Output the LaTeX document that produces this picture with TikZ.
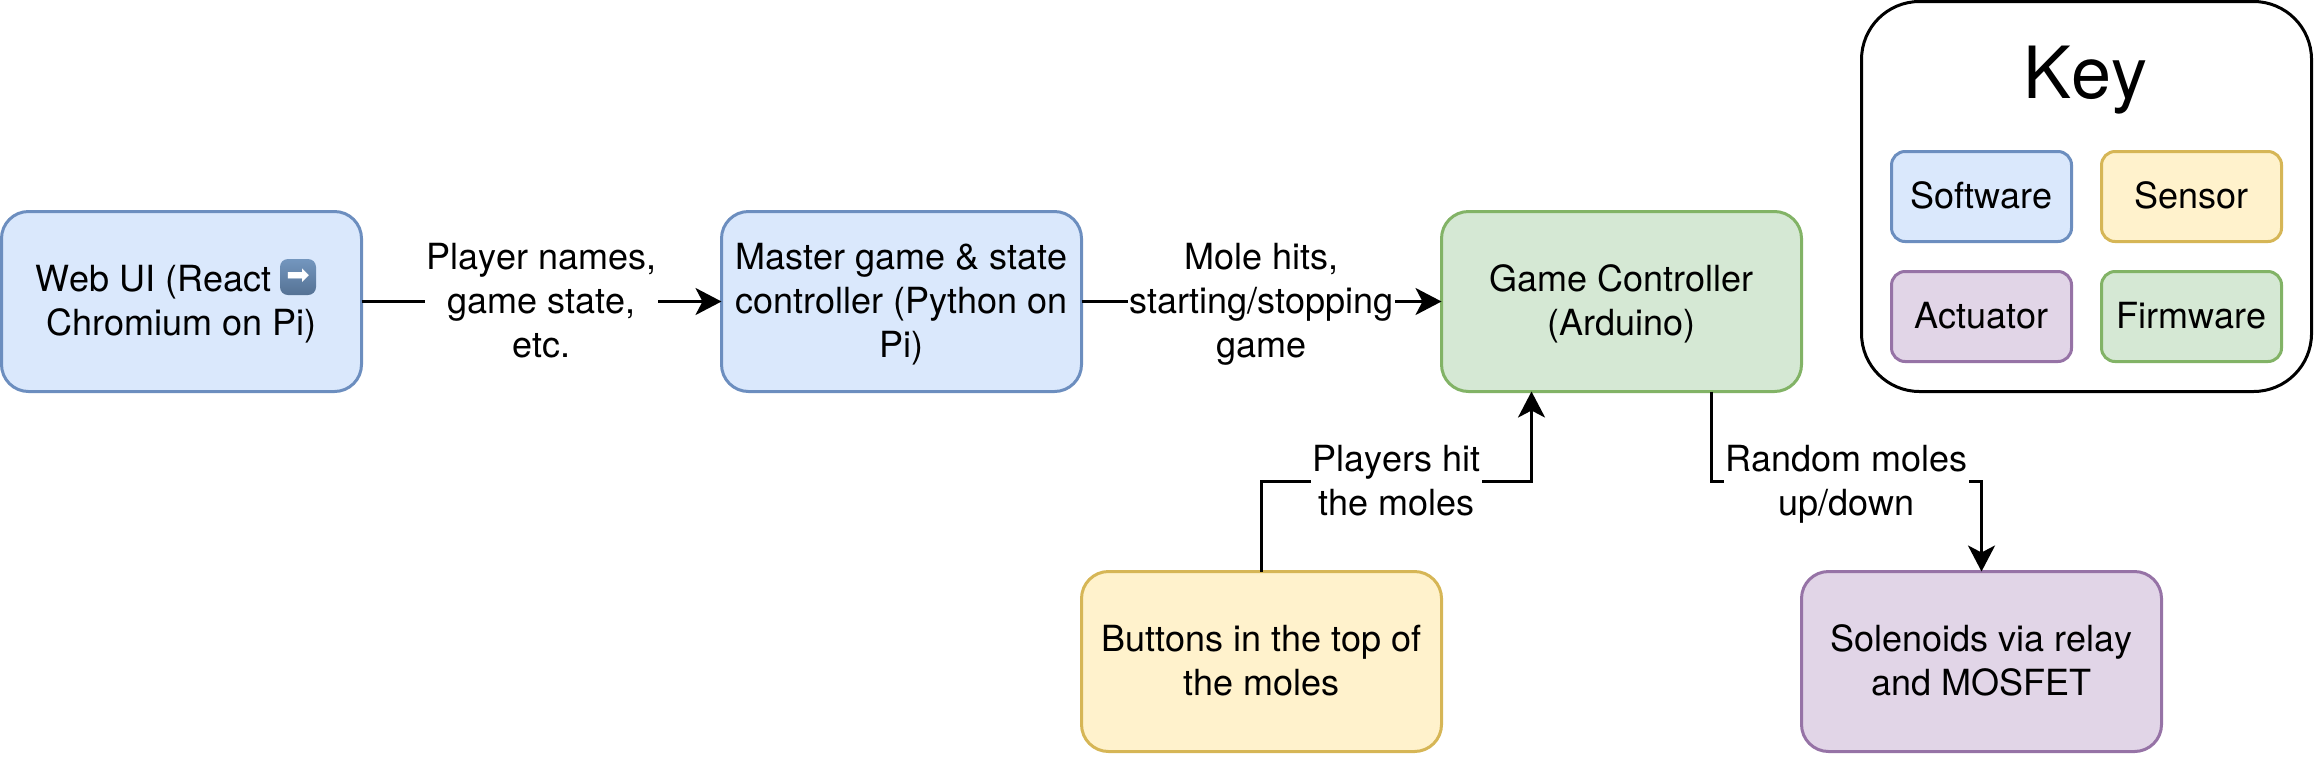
\documentclass[tikz,border=0pt]{standalone}
\usepackage{fontspec}
\setmainfont[Kerning=Off]{TeX Gyre Heros}
\newfontfamily\emojifont{DejaVu Sans}
\usetikzlibrary{arrows.meta,shadings}
\definecolor{swfill}{HTML}{DAE8FC}\definecolor{swline}{HTML}{6C8EBF}
\definecolor{snfill}{HTML}{FFF2CC}\definecolor{snline}{HTML}{D6B656}
\definecolor{fwfill}{HTML}{D5E8D4}\definecolor{fwline}{HTML}{82B366}
\definecolor{acfill}{HTML}{E1D5E7}\definecolor{acline}{HTML}{9673A6}
\definecolor{emojitop}{HTML}{7396BE}\definecolor{emojibot}{HTML}{557294}
\newcommand\ls{\rule[-4.9pt]{0pt}{22pt}}
\tikzset{
  every node/.style={outer sep=0pt,inner sep=0pt,align=center,font=\fontsize{18}{22}\selectfont},
  basebox/.style={draw,line width=1.5pt,minimum width=180pt,minimum height=90pt,rounded corners=13.5pt},
  keybox/.style={draw,line width=1.5pt,minimum width=90pt,minimum height=45pt,rounded corners=6.8pt},
  software/.style={fill=swfill,draw=swline},
  sensor/.style={fill=snfill,draw=snline},
  firmware/.style={fill=fwfill,draw=fwline},
  actuator/.style={fill=acfill,draw=acline},
  edgelabel/.style={fill=white,inner xsep=0.5pt,inner ysep=0pt},
  link/.style={line width=1.5pt,-{Stealth[length=13pt,width=13.5pt,inset=3.5pt]}},
}
\begin{document}
\begin{tikzpicture}[x=0.5pt,y=-0.5pt]
\useasboundingbox (0,0) rectangle (2316,761);
% main boxes
\node[basebox,software] (web) at (181.5,301.5) {\ls Web UI (React \hspace{23pt}\ \\\ls Chromium on Pi)};
\node[basebox,software] (master) at (901.5,301.5) {\ls Master game \& state\\controller (Python on\\\ls Pi)};
\node[basebox,firmware] (game) at (1621.5,301.5) {\ls Game Controller\\\ls (Arduino)};
\node[basebox,sensor] (buttons) at (1261.5,661.5) {\ls Buttons in the top of\\\ls the moles};
\node[basebox,actuator] (solenoids) at (1981.5,661.5) {\ls Solenoids via relay\\\ls and MOSFET};
% emoji
\node[minimum width=18pt,minimum height=18pt,rounded corners=4pt,top color=emojitop,bottom color=emojibot,text=white] (emoji) at (298,277) {\fontsize{14}{14}\selectfont\emojifont ➡};
% connectors
\draw[link] (web.east) -- node[edgelabel] (l1) {\ls Player names,\\game state,\\\ls etc.} (master.west);
\draw[link] (master.east) -- node[edgelabel] (l2) {\ls Mole hits,\\starting/stopping\\\ls game} (game.west);
\coordinate (bendA) at (1261.5,481.5);
\coordinate (bendB) at (1531.5,481.5);
\coordinate (bendC) at (1711.5,481.5);
\coordinate (bendD) at (1981.5,481.5);
\draw[link] (buttons.north) -- (bendA) -- (bendB) -- ([xshift=-45pt]game.south);
\node[edgelabel] (l3) at (1396.5,481.5) {\ls Players hit\\\ls the moles};
\draw[link] ([xshift=45pt]game.south) -- (bendC) -- (bendD) -- (solenoids.north);
\node[edgelabel] (l4) at (1846.5,481.5) {\ls Random moles\\\ls up/down};
% key
\node[draw,line width=1.5pt,minimum width=225pt,minimum height=195pt,rounded corners=29pt,fill=white] (key) at (2086.5,196.5) {};
\node[anchor=base,font=\fontsize{36}{44}\selectfont] (keytitle) at (2085.5,98) {Key};
\node[keybox,software] (k1) at (1981.5,196.5) {\ls Software};
\node[keybox,sensor] (k2) at (2191.5,196.5) {\ls Sensor};
\node[keybox,actuator] (k3) at (1981.5,316.5) {\ls Actuator};
\node[keybox,firmware] (k4) at (2191.5,316.5) {\ls Firmware};
\end{tikzpicture}
\end{document}
